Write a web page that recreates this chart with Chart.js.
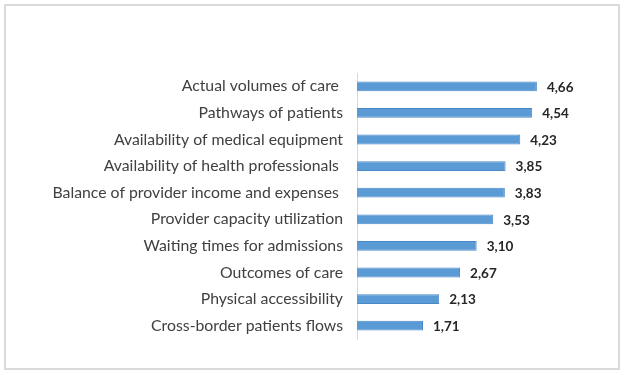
<!DOCTYPE html>
<html lang="en">
<head>
  <meta charset="UTF-8" />
  <title>Chart</title>
  <script src="https://cdn.jsdelivr.net/npm/chart.js"></script>
  <style>
    body { margin: 0; background: #fff; }
    .wrap { position: relative; width: 624px; height: 374px; }
    .frame { position: absolute; left: 4px; top: 4px; width: 612px; height: 362px; border: 2px solid #dadada; }
    canvas { position: absolute; left: 0; top: 0; }
  </style>
</head>
<body>
  <div class="wrap">
    <div class="frame"></div>
    <canvas id="grafico" width="624" height="374"></canvas>
  </div>

  <script>
    const categorias = [
      'Actual volumes of care ',
      'Pathways of patients',
      'Availability of medical equipment',
      'Availability of health professionals ',
      'Balance of provider income and expenses ',
      'Provider capacity utilization',
      'Waiting times for admissions',
      'Outcomes of care',
      'Physical accessibility',
      'Cross-border patients flows'
    ];
    const valores = [4.66, 4.54, 4.23, 3.85, 3.83, 3.53, 3.10, 2.67, 2.13, 1.71];
    const eixoMax = 5;

    // rotulos de valor ao lado das barras (virgula decimal)
    const rotulos = {
      id: 'rotulos',
      afterDatasetsDraw(chart) {
        const ctx = chart.ctx;
        const meta = chart.getDatasetMeta(0);
        ctx.save();
        ctx.font = 'bold 13.5px Lato';
        ctx.fillStyle = '#262626';
        ctx.textAlign = 'left';
        ctx.textBaseline = 'middle';
        meta.data.forEach((bar, i) => {
          const txt = valores[i].toFixed(2).replace('.', ',');
          ctx.fillText(txt, bar.x + 10, bar.y + 1);
        });
        ctx.restore();
      }
    };

    new Chart(document.getElementById('grafico'), {
      type: 'bar',
      data: {
        labels: categorias,
        datasets: [{
          data: valores,
          backgroundColor: '#5b9bd5',
          borderColor: '#4a89c8',
          borderWidth: 1,
          barPercentage: 0.37,
          categoryPercentage: 1
        }]
      },
      options: {
        indexAxis: 'y',
        responsive: false,
        animation: false,
        layout: { padding: { left: 0, right: 74, top: 73, bottom: 35 } },
        scales: {
          x: { display: false, min: 0, max: eixoMax },
          y: {
            grid: { display: false, drawTicks: false },
            border: { display: true, color: '#d9d9d9', width: 1 },
            ticks: { color: '#404040', font: { family: 'Lato', size: 15.8 }, padding: 14 },
            afterFit: s => { s.width = 357; }
          }
        },
        plugins: {
          legend: { display: false },
          tooltip: { enabled: false }
        }
      },
      plugins: [rotulos]
    });
  </script>
</body>
</html>
